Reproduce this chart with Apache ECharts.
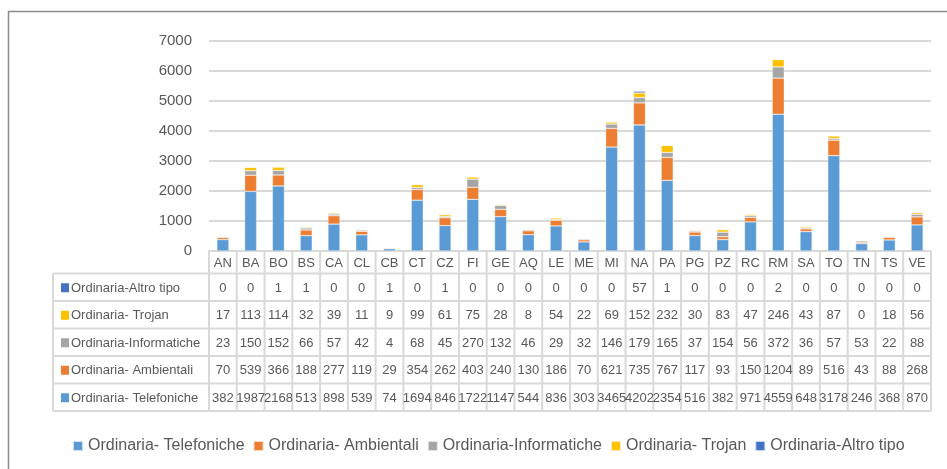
<!DOCTYPE html>
<html>
<head>
<meta charset="utf-8">
<script src="https://cdn.jsdelivr.net/npm/echarts@6/dist/echarts.min.js"></script>
<style>
  html, body { margin: 0; padding: 0; background: #fff; }
  #chart { width: 947px; height: 469px; }
</style>
</head>
<body>
<div id="chart"></div>
<script>
// Province codes along the category axis
const categories = ['AN','BA','BO','BS','CA','CL','CB','CT','CZ','FI','GE','AQ','LE','ME','MI','NA','PA','PG','PZ','RC','RM','SA','TO','TN','TS','VE'];

// Series values (stacked bottom to top)
const telefoniche  = [382,1987,2168,513,898,539,74,1694,846,1722,1147,544,836,303,3465,4202,2354,516,382,971,4559,648,3178,246,368,870];
const ambientali   = [70,539,366,188,277,119,29,354,262,403,240,130,186,70,621,735,767,117,93,150,1204,89,516,43,88,268];
const informatiche = [23,150,152,66,57,42,4,68,45,270,132,46,29,32,146,179,165,37,154,56,372,36,57,53,22,88];
const trojan       = [17,113,114,32,39,11,9,99,61,75,28,8,54,22,69,152,232,30,83,47,246,43,87,0,18,56];
const altroTipo    = [0,0,1,1,0,0,1,0,1,0,0,0,0,0,0,57,1,0,0,0,2,0,0,0,0,0];

// Y axis ticks
const yTicks = [0,1000,2000,3000,4000,5000,6000,7000];

const FONT = '"Liberation Sans", Arial, sans-serif';
const TEXT = '#595959';
const LINE = '#d9d9d9';

const seriesDefs = [
  { name: 'Ordinaria- Telefoniche', data: telefoniche,  color: '#5B9BD5' },
  { name: 'Ordinaria- Ambientali',  data: ambientali,   color: '#ED7D31' },
  { name: 'Ordinaria-Informatiche', data: informatiche, color: '#A5A5A5' },
  { name: 'Ordinaria- Trojan',      data: trojan,       color: '#FFC000' },
  { name: 'Ordinaria-Altro tipo',   data: altroTipo,    color: '#4472C4' }
];

const chart = echarts.init(document.getElementById('chart'), null, { renderer: 'canvas' });

const option = {
  animation: false,
  backgroundColor: '#fff',
  textStyle: { fontFamily: FONT },
  grid: { left: 209, right: 16, top: 41, height: 210, containLabel: false },
  legend: {
    left: 67, top: 433,
    itemWidth: 10, itemHeight: 10, itemGap: 8,
    icon: 'rect',
    textStyle: { fontSize: 16, color: TEXT, fontFamily: FONT },
    data: seriesDefs.map(s => s.name)
  },
  xAxis: {
    type: 'category',
    data: categories,
    axisLine: { show: true, lineStyle: { color: LINE, width: 2 } },
    axisTick: { show: false },
    axisLabel: { show: false }
  },
  yAxis: {
    type: 'value',
    min: yTicks[0], max: yTicks[yTicks.length - 1], interval: 1000,
    axisLine: { show: false },
    axisTick: { show: false },
    axisLabel: { fontSize: 15, color: TEXT, margin: 17, fontFamily: FONT, formatter: v => String(v) },
    splitLine: { lineStyle: { color: LINE, width: 2 } }
  },
  series: seriesDefs.map(s => ({
    name: s.name,
    type: 'bar',
    stack: 'total',
    barWidth: 12,
    data: s.data,
    itemStyle: { color: s.color, borderColor: 'rgba(255,255,255,0.7)', borderWidth: 0.5 }
  }))
};

chart.setOption(option);

// Data table under the plot, aligned to the category axis
function buildTable() {
  const g = [];
  const centers = categories.map((c, i) => chart.convertToPixel({ xAxisIndex: 0 }, i));
  const cellW = (centers[centers.length - 1] - centers[0]) / (categories.length - 1);
  const x0 = centers[0] - cellW / 2;
  const x1 = centers[centers.length - 1] + cellW / 2;
  const yAxis0 = chart.convertToPixel({ yAxisIndex: 0 }, 0);
  const headBottom = 273.5;
  const rowH = 27.5;
  const labelLeft = 53;
  const rows = seriesDefs.slice().reverse();
  const tableBottom = headBottom + rowH * rows.length;
  const ls = { stroke: LINE, lineWidth: 2 };

  // vertical cell borders
  for (let i = 0; i <= categories.length; i++) {
    const x = x0 + i * cellW;
    g.push({ type: 'line', shape: { x1: x, y1: yAxis0, x2: x, y2: tableBottom }, style: ls, silent: true });
  }
  g.push({ type: 'line', shape: { x1: labelLeft, y1: headBottom, x2: labelLeft, y2: tableBottom }, style: ls, silent: true });
  // horizontal row borders
  for (let r = 0; r <= rows.length; r++) {
    const y = headBottom + r * rowH;
    g.push({ type: 'line', shape: { x1: labelLeft, y1: y, x2: x1, y2: y }, style: ls, silent: true });
  }
  // header labels
  categories.forEach((c, i) => {
    g.push({ type: 'text', x: centers[i], y: (yAxis0 + headBottom) / 2 + 1, silent: true,
      style: { text: c, fill: TEXT, font: '13px ' + FONT, align: 'center', verticalAlign: 'middle' } });
  });
  // series rows
  rows.forEach((s, r) => {
    const yc = headBottom + r * rowH + rowH / 2 + 1;
    g.push({ type: 'rect', shape: { x: 61, y: yc - 5, width: 8, height: 9 }, style: { fill: s.color }, silent: true });
    g.push({ type: 'text', x: 71, y: yc, silent: true,
      style: { text: s.name, fill: TEXT, font: '13px ' + FONT, align: 'left', verticalAlign: 'middle' } });
    s.data.forEach((v, i) => {
      g.push({ type: 'text', x: centers[i], y: yc, silent: true,
        style: { text: String(v), fill: TEXT, font: '13px ' + FONT, align: 'center', verticalAlign: 'middle' } });
    });
  });
  // outer frame
  g.push({ type: 'rect', shape: { x: 8.5, y: 11.5, width: 1000, height: 1000 },
    style: { fill: 'none', stroke: '#8c8c8c', lineWidth: 1.5 }, silent: true, z: -1 });
  chart.setOption({ graphic: g });
}
buildTable();
</script>
</body>
</html>
